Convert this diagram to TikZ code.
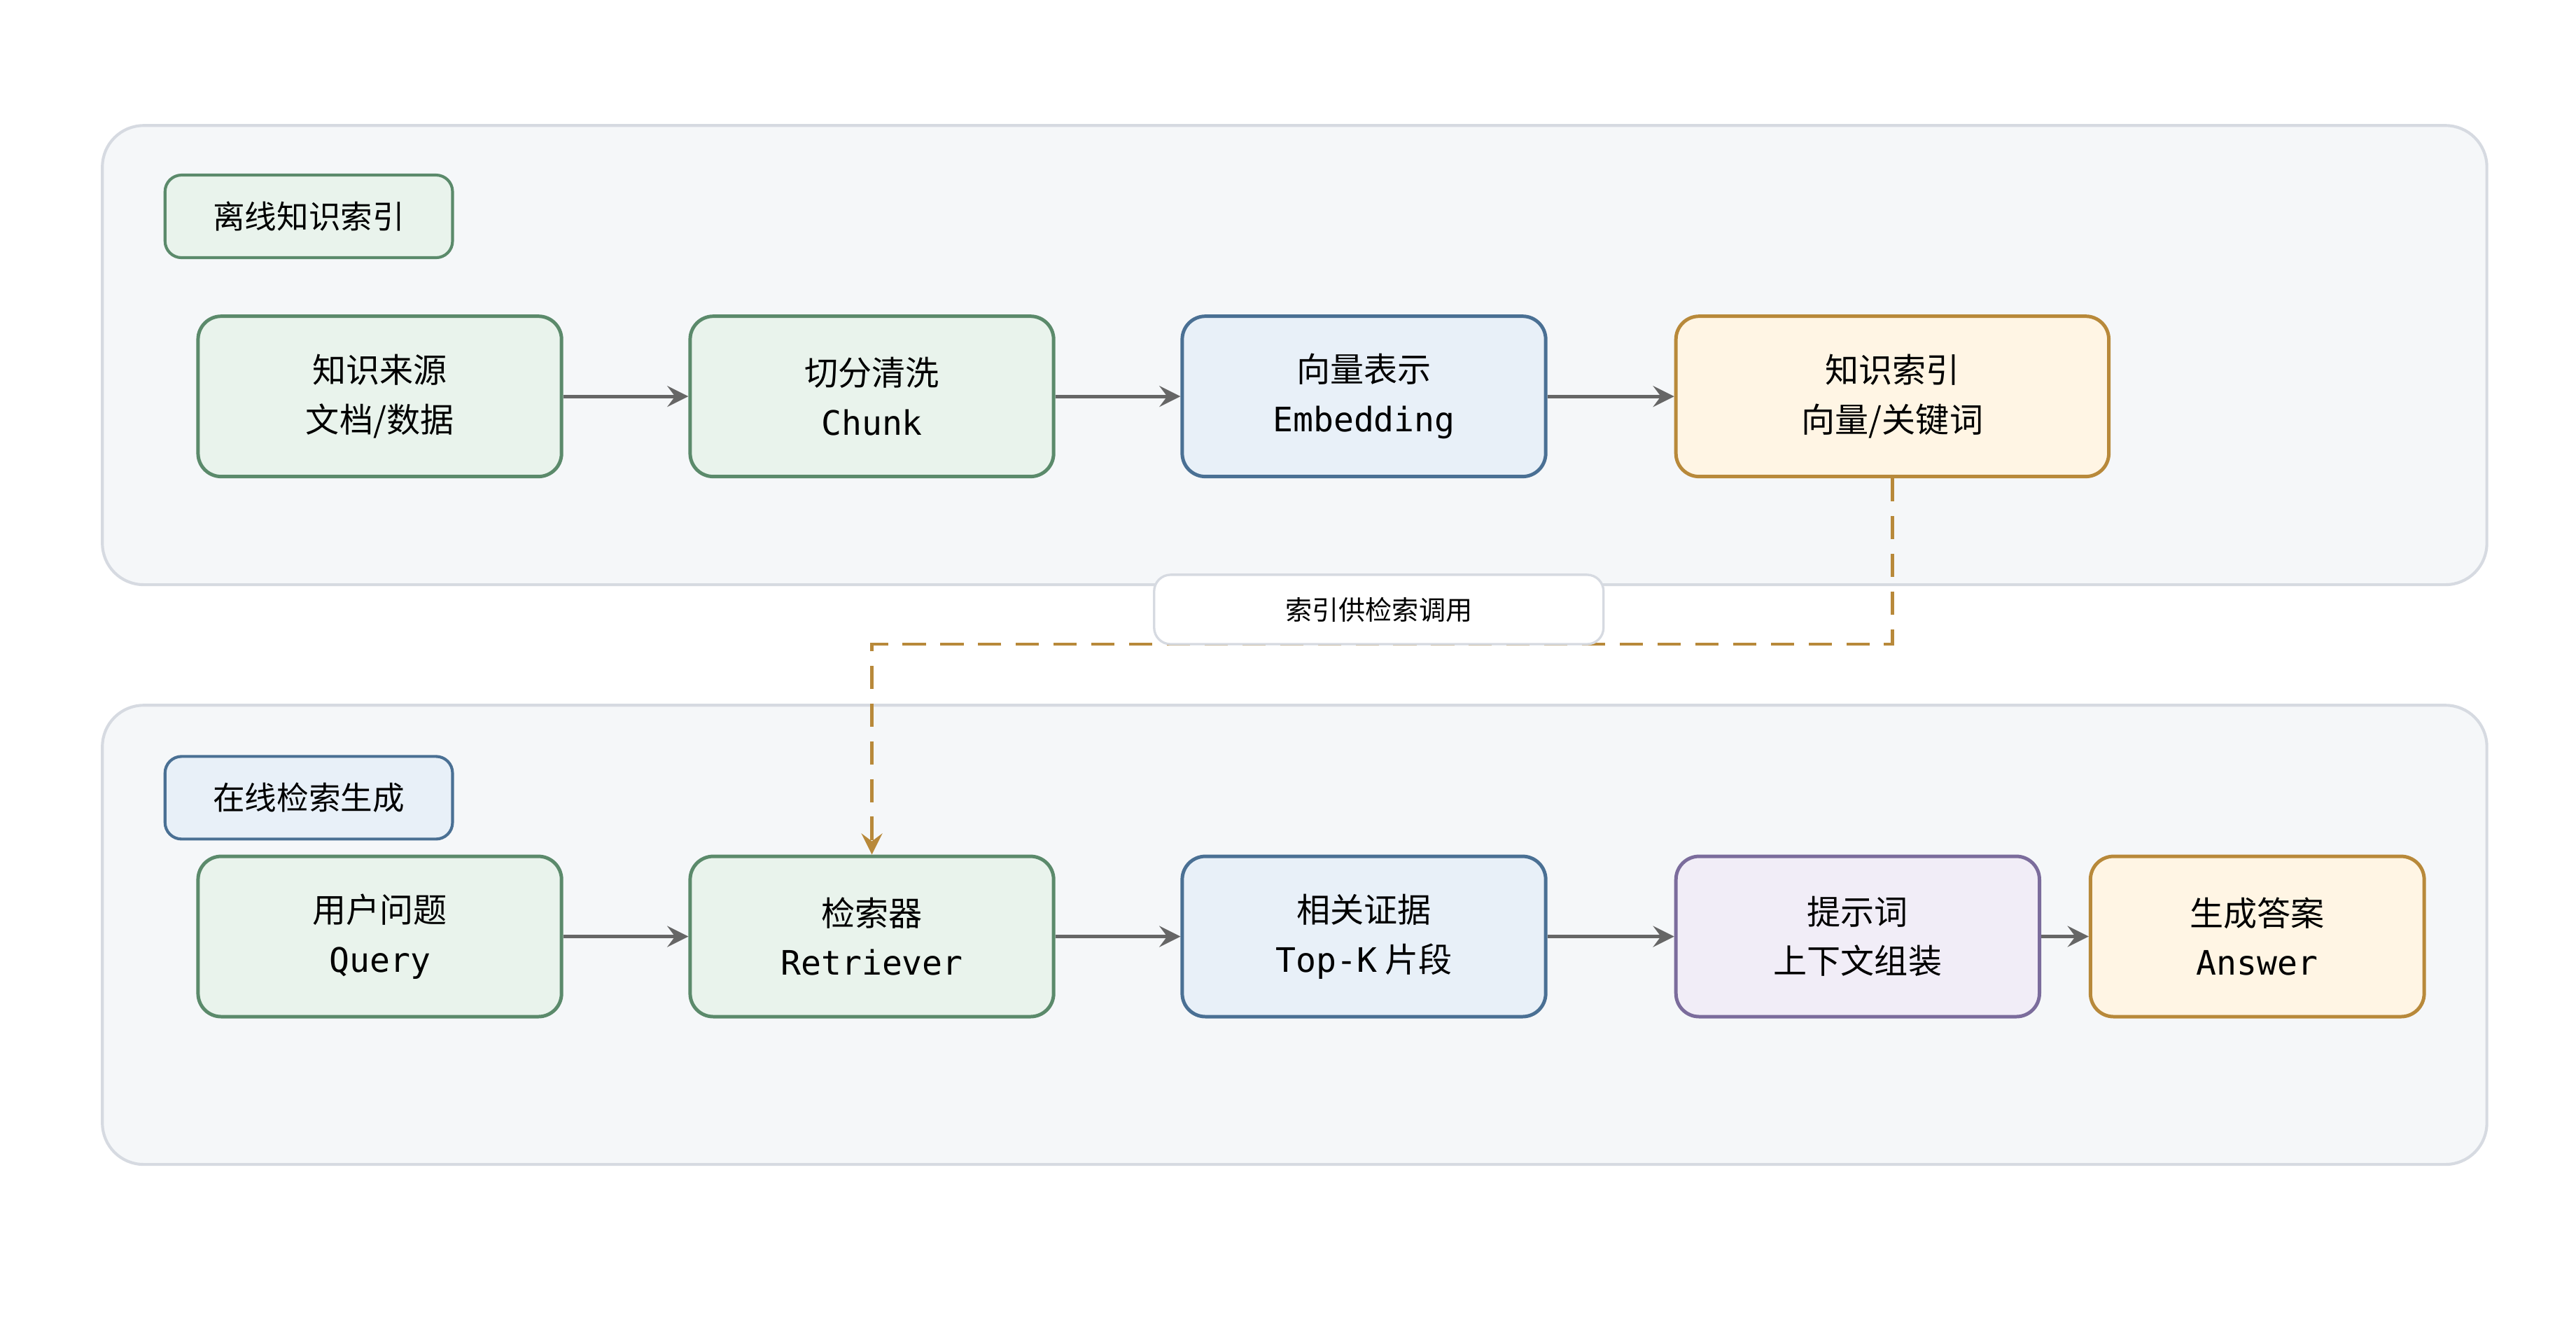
\documentclass[tikz,border=0pt]{standalone}
\usepackage{fontspec}
\setmainfont{Noto Sans CJK SC}
\setmonofont{DejaVu Sans Mono}
\usetikzlibrary{positioning}
\definecolor{grnF}{HTML}{E9F3EC}\definecolor{grnD}{HTML}{5B8A6B}
\definecolor{bluF}{HTML}{E8F0F8}\definecolor{bluD}{HTML}{4A7094}
\definecolor{ylwF}{HTML}{FFF5E4}\definecolor{ylwD}{HTML}{B8893A}
\definecolor{prpF}{HTML}{F1EDF7}\definecolor{prpD}{HTML}{7B6C9C}
\definecolor{panF}{HTML}{F5F7F9}\definecolor{panD}{HTML}{D6DAE1}
\definecolor{arr}{HTML}{666666}
\tikzset{
  box/.style={rounded corners=1.4mm,line width=0.6pt,align=center,minimum height=0.97cm,
    font=\fontsize{5.8}{8.5}\selectfont},
  green/.style={box,fill=grnF,draw=grnD},
  blue/.style={box,fill=bluF,draw=bluD},
  yellow/.style={box,fill=ylwF,draw=ylwD},
  purple/.style={box,fill=prpF,draw=prpD},
  tag/.style={rounded corners=1mm,line width=0.5pt,minimum width=1.74cm,minimum height=0.5cm,
    font=\fontsize{5.5}{7}\selectfont},
  flow/.style={->,>=stealth,draw=arr,line width=0.6pt},
}
\newcommand{\en}[1]{{\ttfamily #1}}
\begin{document}
\begin{tikzpicture}[x=0.01cm,y=-0.01cm]
\useasboundingbox (0,0) rectangle (1560,797);

% panels
\draw[fill=panF,draw=panD,line width=0.5pt,rounded corners=2.5mm] (62,76) rectangle (1506,354);
\draw[fill=panF,draw=panD,line width=0.5pt,rounded corners=2.5mm] (62,427) rectangle (1506,705);
\node[tag,fill=grnF,draw=grnD] (offT) at (187,131) {离线知识索引};
\node[tag,fill=bluF,draw=bluD] (onT) at (187,483) {在线检索生成};

% offline row
\node[green,minimum width=2.2cm] (src) at (230,240) {知识来源\\文档/数据};
\node[green,minimum width=2.2cm] (cut) at (528,240) {切分清洗\\\en{Chunk}};
\node[blue,minimum width=2.2cm] (emb) at (826,240) {向量表示\\\en{Embedding}};
\node[yellow,minimum width=2.62cm] (idx) at (1146,240) {知识索引\\向量/关键词};

% online row
\node[green,minimum width=2.2cm] (qry) at (230,567) {用户问题\\\en{Query}};
\node[green,minimum width=2.2cm] (ret) at (528,567) {检索器\\\en{Retriever}};
\node[blue,minimum width=2.2cm] (top) at (826,567) {相关证据\\\en{Top-K} 片段};
\node[purple,minimum width=2.2cm] (prm) at (1125,567) {提示词\\上下文组装};
\node[yellow,minimum width=2.02cm] (ans) at (1367,567) {生成答案\\\en{Answer}};

\foreach \a/\b in {src/cut,cut/emb,emb/idx,qry/ret,ret/top,top/prm,prm/ans}
  \draw[flow] (\a) -- (\b);

% index to retriever
\draw[->,>=stealth,draw=ylwD,line width=0.6pt,dash pattern=on 4pt off 2.5pt]
  (idx.south) -- (1146,390) -| (ret.north);
\node[fill=white,draw=panD,line width=0.4pt,rounded corners=1mm,minimum width=2.72cm,
  minimum height=0.42cm,font=\fontsize{4.6}{6}\selectfont] (lbl) at (835,369) {索引供检索调用};
\end{tikzpicture}
\end{document}
